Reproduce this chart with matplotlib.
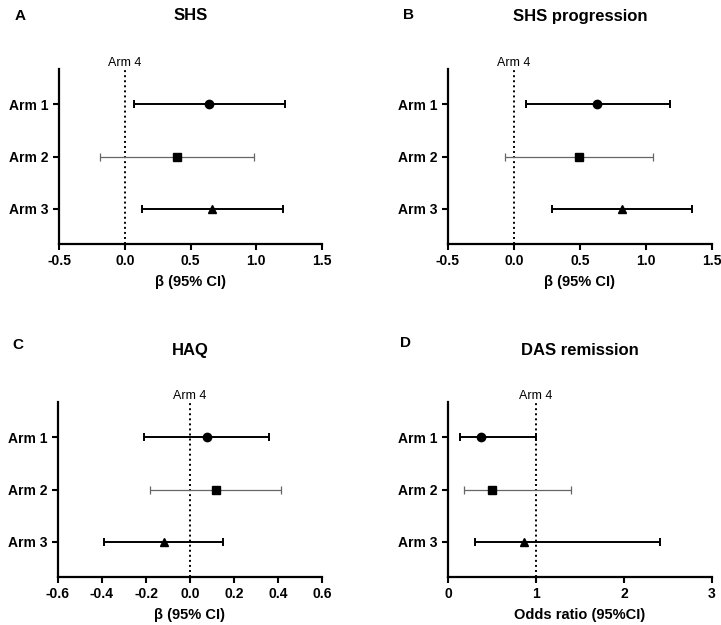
import matplotlib
matplotlib.use("Agg")
import matplotlib.pyplot as plt

plt.rcParams['font.family'] = ['Liberation Sans', 'DejaVu Sans']

arms = ["Arm 1", "Arm 2", "Arm 3"]
reference_label = "Arm 4"

shs_est = [0.64, 0.40, 0.66]
shs_lo = [0.07, -0.19, 0.13]
shs_hi = [1.22, 0.98, 1.20]

prog_est = [0.63, 0.49, 0.82]
prog_lo = [0.09, -0.07, 0.29]
prog_hi = [1.18, 1.05, 1.35]

haq_est = [0.076, 0.117, -0.12]
haq_lo = [-0.21, -0.18, -0.39]
haq_hi = [0.36, 0.414, 0.15]

das_est = [0.37, 0.50, 0.86]
das_lo = [0.14, 0.18, 0.31]
das_hi = [1.00, 1.40, 2.41]

panels = [
    dict(letter="A", title="SHS", est=shs_est, lo=shs_lo, hi=shs_hi, ref=0.0,
         xlim=(-0.5, 1.5), ticks=[-0.5, 0.0, 0.5, 1.0, 1.5], fmt="{:.1f}",
         xlabel="β (95% CI)", box=(59, 69, 322, 244), lab=(15, 16), ty=16),
    dict(letter="B", title="SHS progression", est=prog_est, lo=prog_lo, hi=prog_hi, ref=0.0,
         xlim=(-0.5, 1.5), ticks=[-0.5, 0.0, 0.5, 1.0, 1.5], fmt="{:.1f}",
         xlabel="β (95% CI)", box=(448, 69, 712, 244), lab=(403, 15), ty=16),
    dict(letter="C", title="HAQ", est=haq_est, lo=haq_lo, hi=haq_hi, ref=0.0,
         xlim=(-0.6, 0.6), ticks=[-0.6, -0.4, -0.2, 0.0, 0.2, 0.4, 0.6], fmt="{:.1f}",
         xlabel="β (95% CI)", box=(58, 402, 322, 577), lab=(12, 345), ty=350),
    dict(letter="D", title="DAS remission", est=das_est, lo=das_lo, hi=das_hi, ref=1.0,
         xlim=(0, 3), ticks=[0, 1, 2, 3], fmt="{:.0f}",
         xlabel="Odds ratio (95%CI)", box=(448, 402, 712, 577), lab=(400, 343), ty=350),
]

W, H = 721, 625
fig = plt.figure(figsize=(W / 100, H / 100), dpi=100)

markers = ["o", "s", "^"]
colors = ["black", "#666666", "black"]
lws = [1.4, 0.9, 1.4]
msizes = [6.0, 5.5, 6.0]

for p in panels:
    x0, y0, x1, y1 = p["box"]
    ax = fig.add_axes([x0 / W, 1 - y1 / H, (x1 - x0) / W, (y1 - y0) / H])
    for i, arm in enumerate(arms):
        y = i + 1
        e = p["est"][i]
        ax.errorbar([e], [y], xerr=[[e - p["lo"][i]], [p["hi"][i] - e]],
                    fmt="none", ecolor=colors[i], elinewidth=lws[i],
                    capsize=2.6, capthick=lws[i], zorder=2)
        ax.plot([e], [y], marker=markers[i], color="black", markersize=msizes[i],
                linestyle="none", zorder=3)
    ax.axvline(p["ref"], color="black", linestyle=(0, (1.0, 1.6)), linewidth=1.4, zorder=1)
    ax.set_xlim(*p["xlim"])
    ax.set_ylim(3.67, 0.33)
    ax.set_yticks([1, 2, 3])
    ax.set_yticklabels(arms, fontsize=10, fontweight="bold")
    ax.set_xticks(p["ticks"])
    ax.set_xticklabels([p["fmt"].format(t) for t in p["ticks"]], fontsize=10, fontweight="bold")
    ax.set_xlabel(p["xlabel"], fontsize=10.5, fontweight="bold", labelpad=5)
    for s in ["top", "right"]:
        ax.spines[s].set_visible(False)
    for s in ["left", "bottom"]:
        ax.spines[s].set_linewidth(1.6)
    ax.tick_params(axis="both", direction="out", length=4.5, width=1.5, pad=3)
    ax.text(p["ref"], 0.33, reference_label, ha="center", va="bottom",
            fontsize=9, transform=ax.transData, clip_on=False)
    fig.text((x0 + x1) / 2 / W, 1 - p["ty"] / H, p["title"], ha="center", va="center",
             fontsize=12, fontweight="bold")
    fig.text(p["lab"][0] / W, 1 - p["lab"][1] / H, p["letter"], ha="left", va="center",
             fontsize=11, fontweight="bold")

fig.savefig("out.png", dpi=100)
